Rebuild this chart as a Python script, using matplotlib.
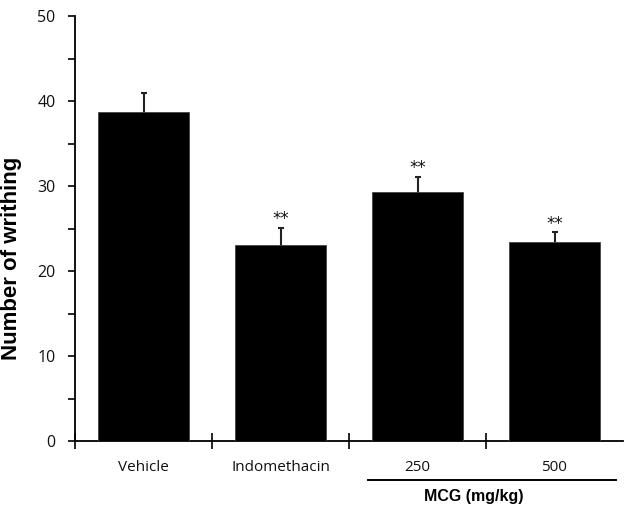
import numpy as np
import matplotlib.pyplot as plt
import matplotlib.transforms as mtransforms

groups = ['Vehicle', 'Indomethacin', '250', '500']
means = [38.7, 23.1, 29.25, 23.45]
sems = [2.2, 2.0, 1.85, 1.1]
marks = ['', '**', '**', '**']

fig = plt.figure(figsize=(6.24, 5.12), dpi=100)
ax = fig.add_axes([75 / 624, 71 / 512, 548 / 624, 425 / 512])

x = np.arange(len(groups))
ax.bar(x, means, width=0.66, color='black', edgecolor='#444444', linewidth=0.6,
       zorder=3)
# symmetric bars; the lower half is hidden behind the black bars
ax.errorbar(x, means, yerr=sems, fmt='none',
            ecolor='#222222', elinewidth=1.5, capsize=2.5, capthick=1.5,
            zorder=2)

for xi, m, s, t in zip(x, means, sems, marks):
    if t:
        ax.annotate(t, (xi, m + s), xytext=(0, -0.5), textcoords='offset points',
                    ha='center', va='bottom', fontsize=12, color='#111111',
                    family='DejaVu Sans')

ax.set_xlim(-0.5, 3.5)
ax.set_ylim(0, 50)

# y axis
ax.set_yticks(np.arange(0, 51, 10))
ax.set_yticks(np.arange(5, 50, 10), minor=True)
ax.tick_params(axis='y', which='both', direction='out', length=5, width=1.2,
               pad=9, labelsize=11.5, labelcolor='#111111')
for lab in ax.get_yticklabels():
    lab.set_family('Open Sans')

# x axis: ticks at group boundaries, labels at centres
ax.set_xticks([-0.5, 0.5, 1.5, 2.5])
ax.set_xticklabels([])
ax.set_xticks(x, minor=True)
ax.set_xticklabels(groups, minor=True, family='Open Sans', fontsize=11,
                   color='#111111')
ax.tick_params(axis='x', which='major', direction='inout', length=12, width=1.2)
ax.tick_params(axis='x', which='minor', length=0, pad=14)

for side in ['top', 'right']:
    ax.spines[side].set_visible(False)
for side in ['left', 'bottom']:
    ax.spines[side].set_linewidth(1.3)

ax.set_ylabel('Number of writhing', fontsize=16, fontweight='bold',
              family='Liberation Sans')
ax.yaxis.set_label_coords(-0.096, 0.43)

# MCG group bracket
trans = mtransforms.blended_transform_factory(ax.transData, ax.transAxes)
ax.plot([1.636, 3.449], [-0.092, -0.092], color='black', lw=1.4,
        transform=trans, clip_on=False)
ax.text(2.41, -0.131, 'MCG (mg/kg)', transform=trans, ha='center', va='center',
        fontsize=11.5, fontweight='bold', family='Liberation Sans')

fig.savefig('out.png', dpi=100)
